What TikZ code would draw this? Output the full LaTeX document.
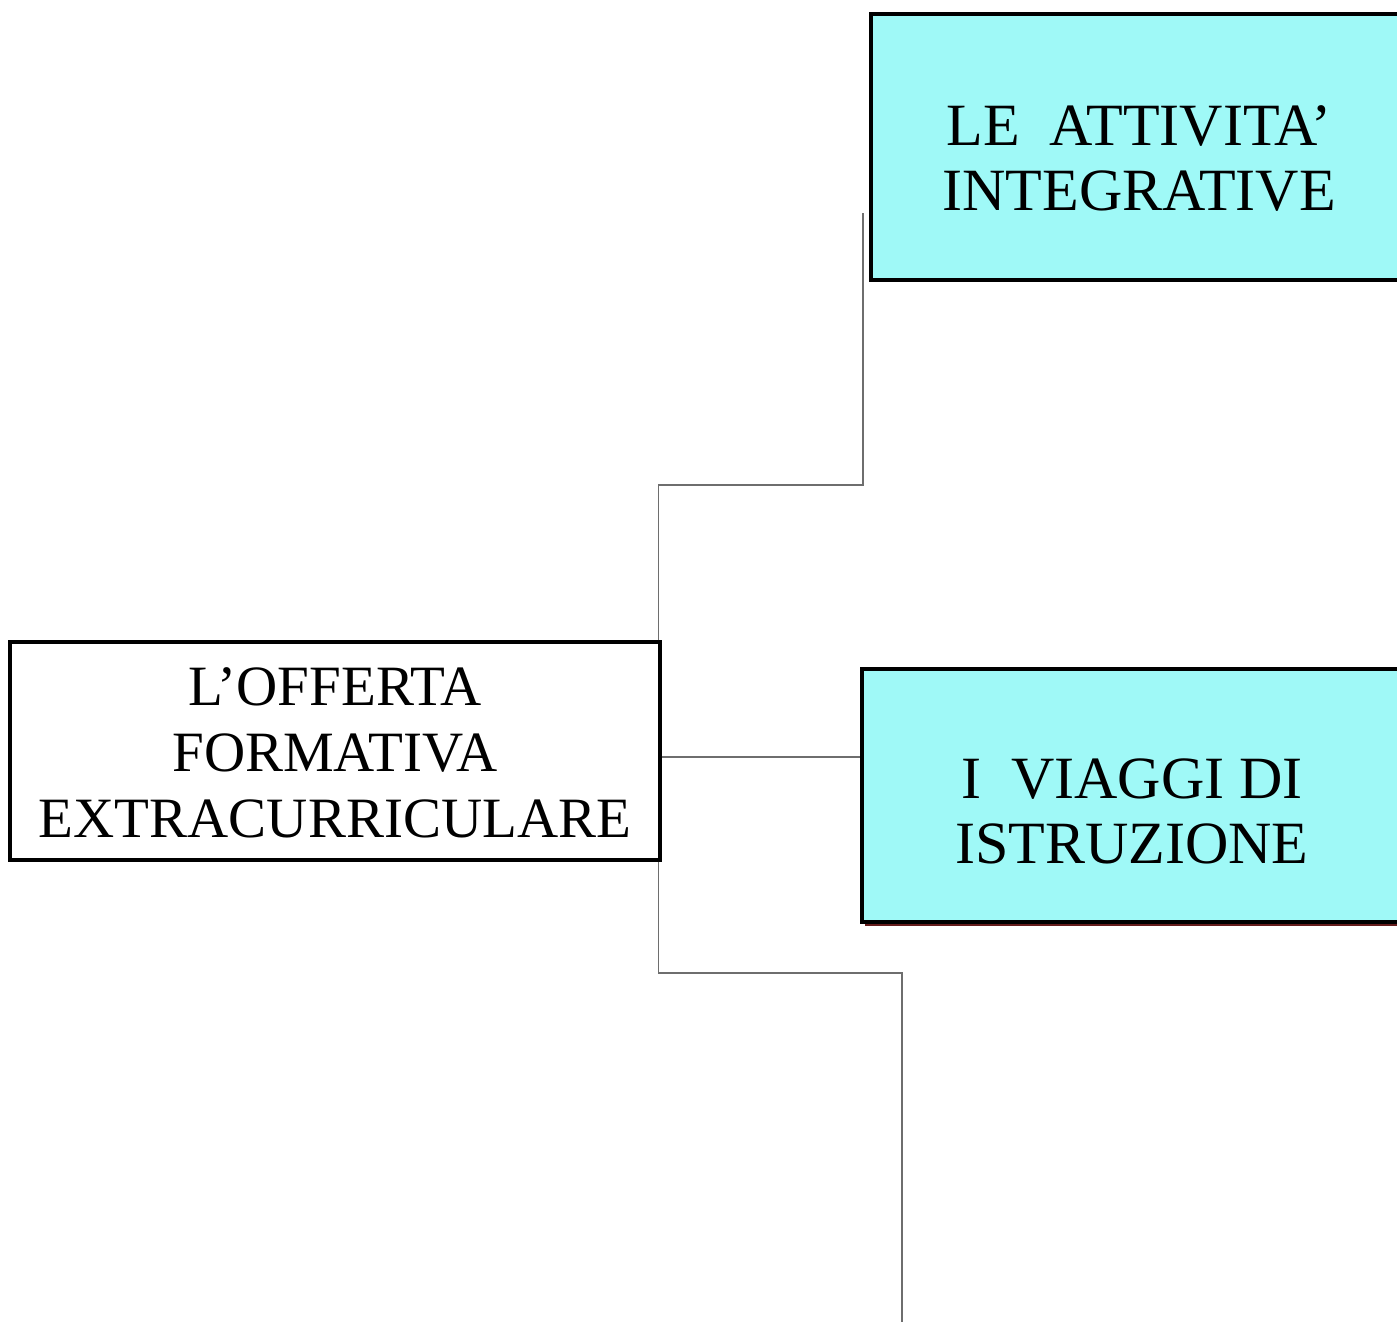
\documentclass[tikz,border=0pt]{standalone}
\usepackage{fontspec}
\setmainfont{Liberation Serif}
\definecolor{boxcyan}{RGB}{159,249,247}
\definecolor{shadowred}{RGB}{100,28,28}
\definecolor{conngray}{RGB}{110,110,110}
\tikzset{
  cyanbox/.style={draw=black, line width=3.3pt, fill=boxcyan, rectangle, inner sep=0pt},
  whitebox/.style={draw=black, line width=3.3pt, fill=white, rectangle, inner sep=0pt},
  boxtext/.style={align=center, inner sep=0pt, font=\fontsize{60}{65}\selectfont},
  conn/.style={draw=conngray, line width=1.3pt}
}
\begin{document}
\begin{tikzpicture}[x=1pt,y=1pt]
\useasboundingbox (0,0) rectangle (1397,1322);
\clip (0,0) rectangle (1397,1322);
% top box
\node[cyanbox, minimum width=536pt, minimum height=266pt] (a) at (1139,1175) {};
\node[boxtext] (ta) at (1139,1163.5) {LE\ \ ATTIVITA’\\INTEGRATIVE};
% middle box with shadow
\fill[shadowred] (865,396) rectangle (1410,650);
\node[cyanbox, minimum width=540pt, minimum height=253pt] (v) at (1132,526.5) {};
\node[boxtext] (tv) at (1132,510.5) {I\ \ VIAGGI DI\\ISTRUZIONE};
% left box
\node[whitebox, minimum width=650pt, minimum height=218pt] (l) at (335,571) {};
\node[boxtext, font=\fontsize{57}{66}\selectfont] (tl) at (335,569) {L’OFFERTA\\FORMATIVA\\EXTRACURRICULARE};
% connectors
\coordinate (c1) at (863,837);
\coordinate (e1) at (863,1109);
\coordinate (h) at (0,565);
\coordinate (c3) at (902,349);
\coordinate (e3) at (902,0);
\draw[conn] ([xshift=-3.5pt]l.north east) |- (c1) -- (e1);
\draw[conn] (l.east |- h) -- (v.west |- h);
\draw[conn] ([xshift=-3.5pt]l.south east) |- (c3) -- (e3);
\end{tikzpicture}
\end{document}
